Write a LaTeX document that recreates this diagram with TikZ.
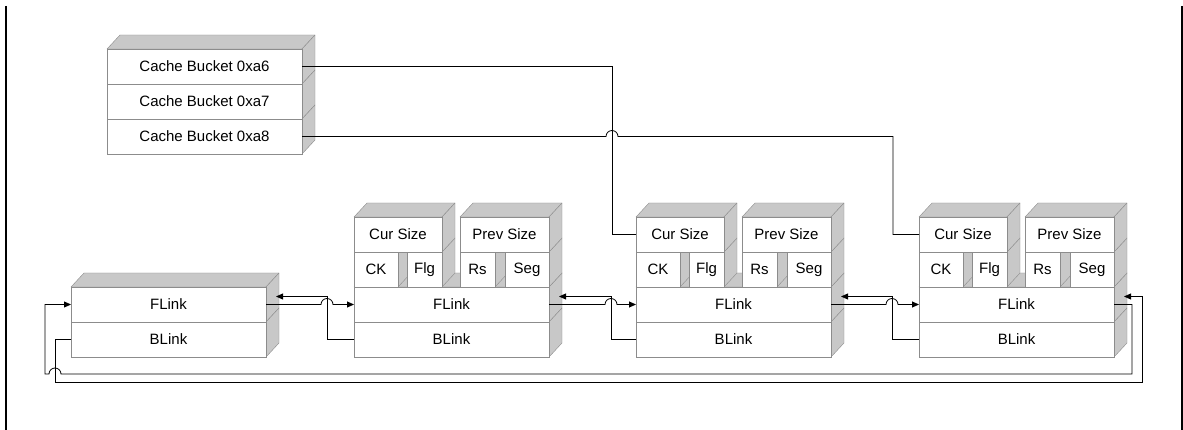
\documentclass[tikz,border=0pt]{standalone}
\usepackage{fontspec}
\setmainfont{Liberation Sans}
\usetikzlibrary{positioning,arrows.meta,backgrounds}
\definecolor{facegray}{HTML}{C8C8C8}
\definecolor{edgegray}{HTML}{8C8C8C}

\begin{document}
\begin{tikzpicture}[x=1pt,y=-1pt,
        cell/.style = {draw=edgegray, fill=white, inner sep=0, outer sep=0, minimum height=35pt, font=\fontsize{15}{17}\selectfont},
        wide/.style = {cell, minimum width=195pt},
        face/.style = {fill=facegray, draw=edgegray, line join=round},
        link/.style = {draw, line width=0.8pt},
        ptr/.style = {link, -{Triangle[length=7pt,width=6pt]}},
        frameline/.style = {line width=2.5pt}]
        \useasboundingbox (0,0) rectangle (1183,430);
        \draw[frameline] (6,6) -- (6,430);
        \draw[frameline] (1181.8,6) -- (1181.8,430);
        % cache buckets
        \node[wide, anchor=north west] (c6) at (107,49) {Cache Bucket 0xa6};
        \node[wide] (c7) [below=0pt of c6] {Cache Bucket 0xa7};
        \node[wide] (c8) [below=0pt of c7] {Cache Bucket 0xa8};
        % free chunks
        \node[wide, anchor=north west] (f1) at (71,287) {FLink};
        \node[wide] (b1) [below=0pt of f1] {BLink};
        \node[wide] (f2) [right=88pt of f1] {FLink};
        \node[wide] (b2) [below=0pt of f2] {BLink};
        \node[cell, minimum width=44pt] (ck2) [above right=0pt of f2.north west] {CK};
        \node[cell, minimum width=35pt] (flg2) [right=9pt of ck2] {Flg};
        \node[cell, minimum width=88pt] (cur2) [above right=0pt of ck2.north west] {Cur Size};
        \node[cell, minimum width=35pt] (rs2) [right=18pt of flg2] {Rs};
        \node[cell, minimum width=44pt] (seg2) [right=10pt of rs2] {Seg};
        \node[cell, minimum width=89pt] (prev2) [above right=0pt of rs2.north west] {Prev Size};
        \node[wide] (f3) [right=87pt of f2] {FLink};
        \node[wide] (b3) [below=0pt of f3] {BLink};
        \node[cell, minimum width=44pt] (ck3) [above right=0pt of f3.north west] {CK};
        \node[cell, minimum width=35pt] (flg3) [right=9pt of ck3] {Flg};
        \node[cell, minimum width=88pt] (cur3) [above right=0pt of ck3.north west] {Cur Size};
        \node[cell, minimum width=35pt] (rs3) [right=18pt of flg3] {Rs};
        \node[cell, minimum width=44pt] (seg3) [right=10pt of rs3] {Seg};
        \node[cell, minimum width=89pt] (prev3) [above right=0pt of rs3.north west] {Prev Size};
        \node[wide] (f4) [right=88pt of f3] {FLink};
        \node[wide] (b4) [below=0pt of f4] {BLink};
        \node[cell, minimum width=44pt] (ck4) [above right=0pt of f4.north west] {CK};
        \node[cell, minimum width=35pt] (flg4) [right=9pt of ck4] {Flg};
        \node[cell, minimum width=88pt] (cur4) [above right=0pt of ck4.north west] {Cur Size};
        \node[cell, minimum width=35pt] (rs4) [right=18pt of flg4] {Rs};
        \node[cell, minimum width=44pt] (seg4) [right=10pt of rs4] {Seg};
        \node[cell, minimum width=89pt] (prev4) [above right=0pt of rs4.north west] {Prev Size};
        % depth faces
        \begin{scope}[on background layer]
        \foreach \n in {c6,f1,f2,cur2,prev2,f3,cur3,prev3,f4,cur4,prev4}
            \path[face] (\n.north west) -- ++(13,-14) -- ([shift={(13,-14)}]\n.north east) -- (\n.north east) -- cycle;
        \foreach \n in {c6,c7,c8,f1,b1,f2,b2,ck2,flg2,cur2,rs2,seg2,prev2,f3,b3,ck3,flg3,cur3,rs3,seg3,prev3,f4,b4,ck4,flg4,cur4,rs4,seg4,prev4}
            \path[face] (\n.north east) -- ++(13,-14) -- ([shift={(13,-14)}]\n.south east) -- (\n.south east) -- cycle;
        \end{scope}
        % bucket heads
        \draw[link] (c6.east) -- ++(310,0) |- (cur3.west);
        \draw[link] (c8.east) -- ++(304,0) arc (180:360:6) -- ++(275,0) |- (cur4.west);
        % forward and back links
        \draw[ptr] (f1.east) -- ++(55,0) arc (180:360:6) -- (f2.west);
        \draw[ptr] (b2.west) -- ++(-27,0) |- ([shift={(10,-8)}]f1.east);
        \draw[ptr] (f2.east) -- ++(56,0) arc (180:360:6) -- (f3.west);
        \draw[ptr] (b3.west) -- ++(-25,0) |- ([shift={(10,-8)}]f2.east);
        \draw[ptr] (f3.east) -- ++(55,0) arc (180:360:6) -- (f4.west);
        \draw[ptr] (b4.west) -- ++(-27,0) |- ([shift={(10,-8)}]f3.east);
        \draw[ptr] (f4.east) -- ++(18,0) |- (61,374) arc (0:-180:6) -- (45,374) |- (f1.west);
        \draw[ptr] (b1.west) -- ++(-16,0) |- (1142,382) |- ([shift={(10,-8)}]f4.east);
\end{tikzpicture}
\end{document}
